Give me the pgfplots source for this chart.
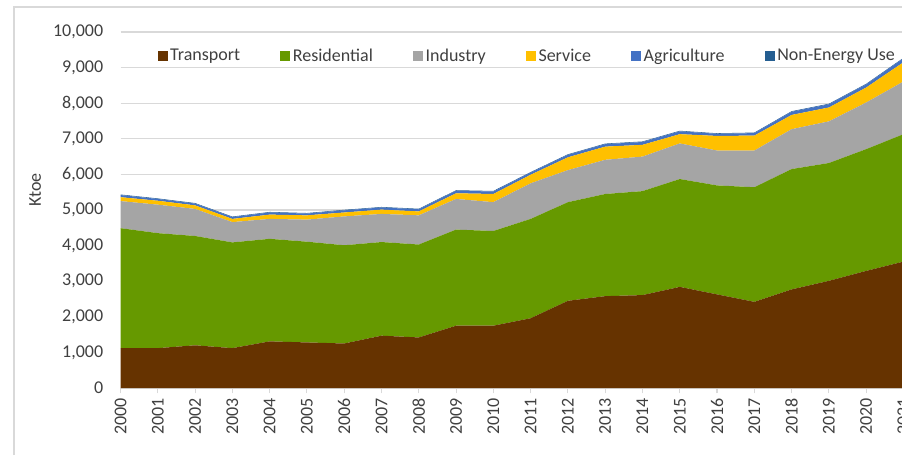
\documentclass[border=0pt]{standalone}
\usepackage{pgfplots}
\pgfplotsset{compat=1.18}
\usepackage{pgfplotstable}
\usepackage{fontspec}
\setmainfont{Carlito}
\definecolor{ctrans}{HTML}{663300}
\definecolor{cres}{HTML}{669900}
\definecolor{cind}{HTML}{A5A5A5}
\definecolor{cser}{HTML}{FFC000}
\definecolor{cagr}{HTML}{4472C4}
\definecolor{cneu}{HTML}{255E91}
\definecolor{ctxt}{HTML}{404040}
\definecolor{cgrid}{HTML}{D9D9D9}
\pgfplotstableread{
year T R I S A N
2000 1120 3370 760 110 60 15
2001 1120 3230 800 110 50 15
2002 1200 3070 760 100 50 15
2003 1120 2970 570 90 50 15
2004 1310 2880 560 120 60 15
2005 1280 2830 620 120 50 15
2006 1250 2760 810 110 60 15
2007 1470 2630 790 120 60 15
2008 1420 2610 820 110 60 15
2009 1750 2700 860 160 70 15
2010 1750 2660 810 230 70 15
2011 1960 2790 1000 240 60 15
2012 2450 2770 900 360 70 15
2013 2580 2870 960 370 70 15
2014 2610 2920 970 330 80 15
2015 2840 3030 1000 260 80 15
2016 2630 3060 980 410 60 15
2017 2420 3220 1030 420 70 15
2018 2770 3380 1120 400 90 15
2019 3010 3310 1170 390 90 15
2020 3290 3420 1310 420 90 15
2021 3550 3580 1480 540 110 15
}\datatable
\begin{document}
\begin{tikzpicture}
\draw[cgrid, line width=0.8pt] (10.5pt,0) -- (10.5pt,336pt) -- (676.5pt,336pt);
\begin{axis}[
  at={(90.375pt,50.25pt)}, anchor=south west,
  scale only axis, width=587.25pt, height=267pt,
  xmin=2000, xmax=2021, ymin=0, ymax=10000,
  scaled y ticks=false,
  stack plots=y, area style, axis on top=false,
  axis x line*=bottom, axis y line*=left,
  x axis line style={cgrid, line width=0.8pt, -},
  y axis line style={draw=none},
  xtick={2000,...,2021},
  ytick={0,1000,...,10000},
  ymajorgrids, grid style={cgrid, line width=0.8pt},
  tick align=outside, major tick length=4pt,
  xtick style={cgrid, line width=0.8pt},
  ytick style={draw=none},
  font=\fontsize{13.5}{15}\selectfont,
  tick label style={text=ctxt, font=\fontsize{13.5}{15}\selectfont},
  x tick label style={rotate=90, anchor=east, /pgf/number format/1000 sep={}},
  y tick label style={/pgf/number format/1000 sep={,}, xshift=-5.5pt},
  /pgf/number format/assume math mode=true,
  ylabel={Ktoe},
  ylabel style={at={(axis description cs:-0.109,0.556)}, anchor=center, text=ctxt, font=\fontsize{13.5}{15}\selectfont},
  legend columns=6,
  legend style={draw=none, fill=none, at={(axis description cs:0.047,0.933)}, anchor=west,
    inner sep=0pt, font=\fontsize{13.5}{15}\selectfont, text=ctxt,
    /tikz/every even column/.append style={column sep=28pt},
    nodes={inner sep=2pt}},
  legend image code/.code={\fill[#1] (0pt,-3.75pt) rectangle (7.5pt,3.75pt);},
]
\addplot[fill=ctrans, draw=none] table[x=year, y=T] {\datatable} \closedcycle;
\addplot[fill=cres, draw=none] table[x=year, y=R] {\datatable} \closedcycle;
\addplot[fill=cind, draw=none] table[x=year, y=I] {\datatable} \closedcycle;
\addplot[fill=cser, draw=none] table[x=year, y=S] {\datatable} \closedcycle;
\addplot[fill=cagr, draw=none] table[x=year, y=A] {\datatable} \closedcycle;
\addplot[fill=cneu, draw=none] table[x=year, y=N] {\datatable} \closedcycle;
\legend{Transport, Residential, Industry, Service, Agriculture, Non-Energy Use}
\end{axis}
\pgfresetboundingbox
\path[use as bounding box] (0,0) rectangle (676.5pt,341.25pt);
\end{tikzpicture}
\end{document}
